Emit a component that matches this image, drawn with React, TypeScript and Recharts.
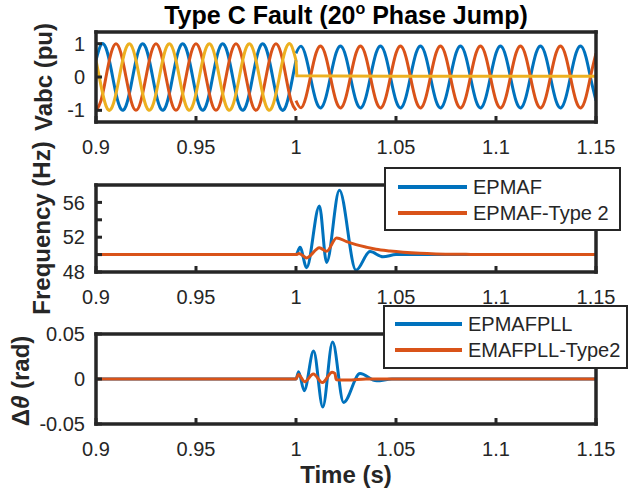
import React from 'react';
import { LineChart, Line, XAxis, YAxis, Legend } from 'recharts';

const FONT = '"Liberation Sans", Arial, Helvetica, sans-serif';
const INK = '#262626';
const BLUE = '#0072BD';
const ORANGE = '#D95319';
const YELLOW = '#EDB120';

// ---- shared time axis ----
const timeTicks = [0.9, 0.95, 1, 1.05, 1.1, 1.15];
const timeTickLabels = ['0.9', '0.95', '1', '1.05', '1.1', '1.15'];

// ---- panel 1: three-phase voltages ----
const vabcTicks = [-1, 0, 1];
const vabcTickLabels = ['-1', '0', '1'];

const tPre = [
  0.9, 0.9025, 0.905, 0.9075, 0.91, 0.9125, 0.915, 0.9175, 0.92, 0.9225, 0.925, 0.9275, 0.93, 0.9325,
  0.935, 0.9375, 0.94, 0.9425, 0.945, 0.9475, 0.95, 0.9525, 0.955, 0.9575, 0.96, 0.9625, 0.965, 0.9675,
  0.97, 0.9725, 0.975, 0.9775, 0.98, 0.9825, 0.985, 0.9875, 0.99, 0.9925, 0.995, 0.9975, 1.0,
];
const vaPre = [
  0.5, 0.966, 0.866, 0.259, -0.5, -0.966, -0.866, -0.259,
  0.5, 0.966, 0.866, 0.259, -0.5, -0.966, -0.866, -0.259,
  0.5, 0.966, 0.866, 0.259, -0.5, -0.966, -0.866, -0.259,
  0.5, 0.966, 0.866, 0.259, -0.5, -0.966, -0.866, -0.259,
  0.5, 0.966, 0.866, 0.259, -0.5, -0.966, -0.866, -0.259,
  0.5,
];
const vbPre = [
  -1, -0.707, 0, 0.707, 1, 0.707, 0, -0.707,
  -1, -0.707, 0, 0.707, 1, 0.707, 0, -0.707,
  -1, -0.707, 0, 0.707, 1, 0.707, 0, -0.707,
  -1, -0.707, 0, 0.707, 1, 0.707, 0, -0.707,
  -1, -0.707, 0, 0.707, 1, 0.707, 0, -0.707,
  -1,
];
const vcPre = [
  0.5, -0.259, -0.866, -0.966, -0.5, 0.259, 0.866, 0.966,
  0.5, -0.259, -0.866, -0.966, -0.5, 0.259, 0.866, 0.966,
  0.5, -0.259, -0.866, -0.966, -0.5, 0.259, 0.866, 0.966,
  0.5, -0.259, -0.866, -0.966, -0.5, 0.259, 0.866, 0.966,
  0.5, -0.259, -0.866, -0.966, -0.5, 0.259, 0.866, 0.966,
  0.5,
];

const tPost = [
  1.0, 1.0025, 1.005, 1.0075, 1.01, 1.0125, 1.015, 1.0175, 1.02, 1.0225, 1.025, 1.0275, 1.03, 1.0325,
  1.035, 1.0375, 1.04, 1.0425, 1.045, 1.0475, 1.05, 1.0525, 1.055, 1.0575, 1.06, 1.0625, 1.065, 1.0675,
  1.07, 1.0725, 1.075, 1.0775, 1.08, 1.0825, 1.085, 1.0875, 1.09, 1.0925, 1.095, 1.0975, 1.1, 1.1025,
  1.105, 1.1075, 1.11, 1.1125, 1.115, 1.1175, 1.12, 1.1225, 1.125, 1.1275, 1.13, 1.1325, 1.135, 1.1375,
  1.14, 1.1425, 1.145, 1.1475, 1.15,
];
const vaPost = [
  0.712, 0.926, 0.598, -0.081, -0.712, -0.926, -0.598, 0.081,
  0.712, 0.926, 0.598, -0.081, -0.712, -0.926, -0.598, 0.081,
  0.712, 0.926, 0.598, -0.081, -0.712, -0.926, -0.598, 0.081,
  0.712, 0.926, 0.598, -0.081, -0.712, -0.926, -0.598, 0.081,
  0.712, 0.926, 0.598, -0.081, -0.712, -0.926, -0.598, 0.081,
  0.712, 0.926, 0.598, -0.081, -0.712, -0.926, -0.598, 0.081,
  0.712, 0.926, 0.598, -0.081, -0.712, -0.926, -0.598, 0.081,
  0.712, 0.926, 0.598, -0.081, -0.712,
];
const vbPost = [
  -0.712, -0.926, -0.598, 0.081, 0.712, 0.926, 0.598, -0.081,
  -0.712, -0.926, -0.598, 0.081, 0.712, 0.926, 0.598, -0.081,
  -0.712, -0.926, -0.598, 0.081, 0.712, 0.926, 0.598, -0.081,
  -0.712, -0.926, -0.598, 0.081, 0.712, 0.926, 0.598, -0.081,
  -0.712, -0.926, -0.598, 0.081, 0.712, 0.926, 0.598, -0.081,
  -0.712, -0.926, -0.598, 0.081, 0.712, 0.926, 0.598, -0.081,
  -0.712, -0.926, -0.598, 0.081, 0.712, 0.926, 0.598, -0.081,
  -0.712, -0.926, -0.598, 0.081, 0.712,
];
const tVcPost = [1.0, 1.0004, 1.02, 1.05, 1.08, 1.11, 1.15];
const vcPost = [0.5, 0.035, 0.03, 0.025, 0.025, 0.02, 0.02];

// ---- panel 2: estimated frequency ----
const freqTicks = [48, 50, 52, 54, 56];
const freqTickLabels = ['48', '', '52', '', '56'];
const freqNames = ['EPMAF', 'EPMAF-Type 2'];

const tFreqA = [0.9, 1.0, 1.002, 1.0053, 1.0117, 1.0153, 1.0217, 1.03, 1.037, 1.0435, 1.05, 1.15];
const freqA = [50, 50, 50.85, 48.5, 55.6, 49.1, 57.4, 48.2, 50.35, 49.75, 50, 50];

const tFreqB = [
  0.9, 1.0, 1.0015, 1.0053, 1.0117, 1.0153, 1.0203, 1.0253, 1.03, 1.0353, 1.04, 1.047, 1.0535, 1.062,
  1.07, 1.085, 1.1, 1.15,
];
const freqB = [
  50, 50, 50.12, 49.62, 50.8, 50.38, 51.92, 51.5, 51.15, 50.85, 50.62, 50.42, 50.28, 50.15,
  50.08, 50.03, 50.0, 50.0,
];

// ---- panel 3: phase error ----
const dthTicks = [-0.05, 0, 0.05];
const dthTickLabels = ['-0.05', '0', '0.05'];
const dthNames = ['EPMAFPLL', 'EMAFPLL-Type2'];

const tDthA = [0.9, 1.0, 1.0013, 1.0041, 1.0088, 1.0134, 1.0183, 1.0238, 1.032, 1.0403, 1.048, 1.15];
const dthA = [0, 0, 0.008, -0.013, 0.031, -0.031, 0.041, -0.026, 0.006, -0.002, 0, 0];

const tDthB = [0.9, 1.0, 1.0012, 1.0043, 1.0087, 1.0132, 1.0181, 1.0195, 1.0201, 1.026, 1.035, 1.15];
const dthB = [0, 0, 0.005, -0.003, 0.0055, -0.004, 0.0075, 0.006, -0.0008, -0.0012, 0, 0];

const pts = (t: number[], v: number[]) => t.map((x, i) => ({ t: x, v: v[i] }));
const fmt = (ticks: number[], labels: string[]) => (v: number) => {
  const i = ticks.findIndex((k) => Math.abs(k - v) < 1e-9);
  return i >= 0 ? labels[i] : '';
};

const frameLine = { stroke: INK, strokeWidth: 3.5, strokeLinecap: 'square' as const };
const tickLine = { stroke: INK, strokeWidth: 3 };
const tickFont = { fill: INK, fontSize: 20, fontFamily: FONT };

type FrameOpts = {
  domain: [number, number];
  ticks: number[];
  labels: string[];
  yLabel: () => React.ReactElement;
  xLabel?: () => React.ReactElement;
  title?: () => React.ReactElement;
};

// Boxed axes with inward ticks on all four sides; each axis band is 1px thick
function frameAxes(o: FrameOpts) {
  return [
    <XAxis
      key="xb"
      xAxisId="b"
      type="number"
      dataKey="t"
      domain={[0.9, 1.15]}
      allowDataOverflow
      ticks={timeTicks}
      interval={0}
      height={1}
      tickSize={-6}
      tickMargin={24}
      tickFormatter={fmt(timeTicks, timeTickLabels)}
      tick={tickFont}
      tickLine={tickLine}
      axisLine={frameLine}
      label={o.xLabel ? { content: o.xLabel } : undefined}
    />,
    <XAxis
      key="xt"
      xAxisId="t"
      orientation="top"
      type="number"
      dataKey="t"
      domain={[0.9, 1.15]}
      allowDataOverflow
      ticks={timeTicks}
      interval={0}
      height={1}
      tickSize={-6}
      tick={false}
      tickLine={tickLine}
      axisLine={frameLine}
      label={o.title ? { content: o.title } : undefined}
    />,
    <YAxis
      key="yl"
      yAxisId="l"
      type="number"
      domain={o.domain}
      allowDataOverflow
      ticks={o.ticks}
      interval={0}
      width={1}
      tickSize={-6}
      tickMargin={17}
      tickFormatter={fmt(o.ticks, o.labels)}
      tick={tickFont}
      tickLine={tickLine}
      axisLine={frameLine}
      label={{ content: o.yLabel }}
    />,
    <YAxis
      key="yr"
      yAxisId="r"
      orientation="right"
      type="number"
      domain={o.domain}
      allowDataOverflow
      ticks={o.ticks}
      interval={0}
      width={1}
      tickSize={-6}
      tick={false}
      tickLine={tickLine}
      axisLine={frameLine}
    />,
  ];
}

const rotLabel = (x: number, y: number, children: React.ReactNode) => () => (
  <text
    x={x}
    y={y}
    transform={`rotate(-90, ${x}, ${y})`}
    textAnchor="middle"
    fill={INK}
    fontFamily={FONT}
    fontSize={24}
    fontWeight="bold"
  >
    {children}
  </text>
);

type LegendCfg = { w: number; padTop: number; padLeft: number; sample: number; gap: number; order: string[] };
const legendBox = (cfg: LegendCfg) => (props: any) => {
  const items = [...(props.payload || [])].sort(
    (a: any, b: any) => cfg.order.indexOf(a.value) - cfg.order.indexOf(b.value)
  );
  return (
    <div
      style={{
        boxSizing: 'border-box',
        width: cfg.w,
        height: 64,
        border: `2px solid ${INK}`,
        background: '#fff',
        paddingTop: cfg.padTop,
        paddingLeft: cfg.padLeft,
        fontFamily: FONT,
        fontSize: 20,
        color: INK,
      }}
    >
      {items.map((p: any) => (
        <div key={p.value} style={{ display: 'flex', alignItems: 'center', height: 26, whiteSpace: 'nowrap' }}>
          <span style={{ display: 'inline-block', width: cfg.sample, height: 3.5, background: p.color, marginRight: cfg.gap }} />
          <span>{p.value}</span>
        </div>
      ))}
    </div>
  );
};

const lineCommon = {
  xAxisId: 'b',
  yAxisId: 'l',
  dataKey: 'v',
  dot: false,
  activeDot: false,
  strokeWidth: 3,
  isAnimationActive: false,
} as const;

export default function App() {
  return (
    <div style={{ position: 'absolute', left: 0, top: 0, width: 639, height: 495, background: '#fff' }}>
      <style>{`.recharts-surface{overflow:visible}`}</style>

      {/* Vabc */}
      <div style={{ position: 'absolute', left: 0, top: 0 }}>
        <LineChart width={639} height={165} margin={{ top: 31, right: 42, bottom: 42, left: 95 }}>
          {frameAxes({
            domain: [-1.35, 1.35],
            ticks: vabcTicks,
            labels: vabcTickLabels,
            yLabel: rotLabel(52, 77, 'Vabc (pu)'),
            title: () => (
              <text x={346} y={24} textAnchor="middle" fill="#000" fontFamily={FONT} fontSize={25} fontWeight="bold">
                Type C Fault (20
                <tspan dy={-10} fontSize={16}>o</tspan>
                <tspan dy={10}> Phase Jump)</tspan>
              </text>
            ),
          })}
          <Line {...lineCommon} name="Va" data={pts(tPre, vaPre)} type="natural" stroke={BLUE} />
          <Line {...lineCommon} name="Va+" data={pts(tPost, vaPost)} type="natural" stroke={BLUE} />
          <Line {...lineCommon} name="Vb" data={pts(tPre, vbPre)} type="natural" stroke={ORANGE} />
          <Line {...lineCommon} name="Vb+" data={pts(tPost, vbPost)} type="natural" stroke={ORANGE} />
          <Line {...lineCommon} name="Vc" data={pts(tPre, vcPre)} type="natural" stroke={YELLOW} />
          <Line {...lineCommon} name="Vc+" data={pts(tVcPost, vcPost)} type="linear" stroke={YELLOW} />
        </LineChart>
      </div>

      {/* Frequency */}
      <div style={{ position: 'absolute', left: 0, top: 135 }}>
        <LineChart width={639} height={185} margin={{ top: 49, right: 42, bottom: 47, left: 95 }}>
          {frameAxes({
            domain: [48, 58],
            ticks: freqTicks,
            labels: freqTickLabels,
            yLabel: rotLabel(50, 93, 'Frequency (Hz)'),
          })}
          <Line {...lineCommon} name={freqNames[0]} data={pts(tFreqA, freqA)} type="monotone" stroke={BLUE} />
          <Line {...lineCommon} name={freqNames[1]} data={pts(tFreqB, freqB)} type="monotone" stroke={ORANGE} />
          <Legend
            layout="vertical"
            align="center"
            verticalAlign="middle"
            wrapperStyle={{ left: 384, top: 32, width: 237, height: 64 }}
            content={legendBox({ w: 237, padTop: 5, padLeft: 12, sample: 69, gap: 6, order: freqNames })}
          />
        </LineChart>
      </div>

      {/* Phase error */}
      <div style={{ position: 'absolute', left: 0, top: 300 }}>
        <LineChart width={639} height={195} margin={{ top: 33, right: 42, bottom: 70, left: 95 }}>
          {frameAxes({
            domain: [-0.05, 0.05],
            ticks: dthTicks,
            labels: dthTickLabels,
            yLabel: rotLabel(29, 81, (
              <>
                <tspan>Δ</tspan>
                <tspan fontStyle="italic">θ</tspan>
                <tspan> (rad)</tspan>
              </>
            )),
            xLabel: () => (
              <text x={346} y={183} textAnchor="middle" fill={INK} fontFamily={FONT} fontSize={24} fontWeight="bold">
                Time (s)
              </text>
            ),
          })}
          <Line {...lineCommon} name={dthNames[0]} data={pts(tDthA, dthA)} type="monotone" stroke={BLUE} />
          <Line {...lineCommon} name={dthNames[1]} data={pts(tDthB, dthB)} type="monotone" stroke={ORANGE} />
          <Legend
            layout="vertical"
            align="center"
            verticalAlign="middle"
            wrapperStyle={{ left: 383, top: 5, width: 245, height: 64 }}
            content={legendBox({ w: 245, padTop: 4, padLeft: 10, sample: 67, gap: 6, order: dthNames })}
          />
        </LineChart>
      </div>
    </div>
  );
}
